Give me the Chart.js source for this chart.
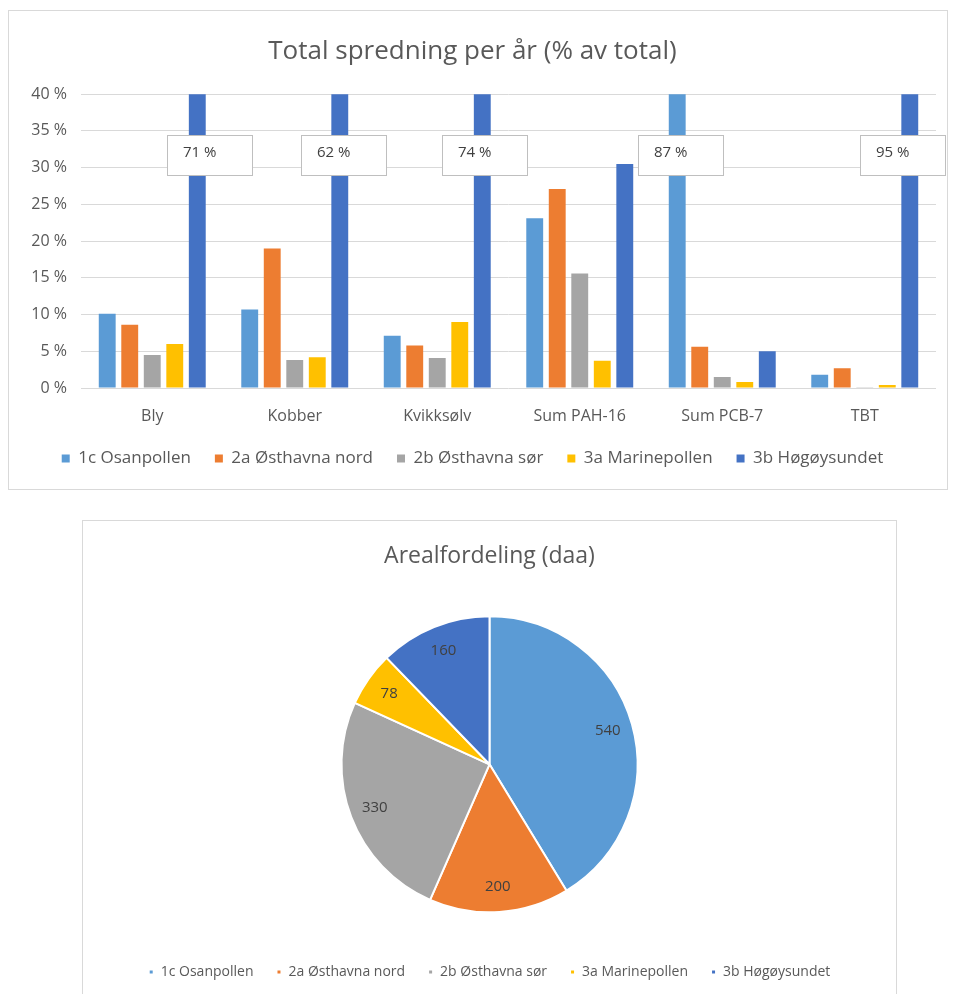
<!DOCTYPE html>
<html>
<head>
<meta charset="utf-8">
<script src="https://cdn.jsdelivr.net/npm/chart.js@4"></script>
<style>
  body { margin: 0; background: #fff; }
  .box { position: absolute; border: 1px solid #d9d9d9; background: #fff; }
  #boxA { left: 8px; top: 10px; width: 938px; height: 478px; }
  #boxB { left: 82px; top: 520px; width: 813px; height: 480px; }
  canvas { display: block; }
</style>
</head>
<body>
<div class="box" id="boxA"><canvas id="spredning" width="938" height="478"></canvas></div>
<div class="box" id="boxB"><canvas id="areal" width="813" height="473"></canvas></div>
<script>
// categories and series
const parameters = ['Bly', 'Kobber', 'Kvikksølv', 'Sum PAH-16', 'Sum PCB-7', 'TBT'];
const areas = ['1c Osanpollen', '2a Østhavna nord', '2b Østhavna sør', '3a Marinepollen', '3b Høgøysundet'];
const colors = ['#5B9BD5', '#ED7D31', '#A5A5A5', '#FFC000', '#4472C4'];

// % of total per parameter, one array per area
const osanpollen   = [10.1, 10.7, 7.1, 23.1, 87, 1.8];
const osthavnaNord = [8.6, 19.0, 5.8, 27.1, 5.6, 2.7];
const osthavnaSor  = [4.5, 3.8, 4.1, 15.6, 1.5, 0.1];
const marinepollen = [6.0, 4.2, 9.0, 3.7, 0.8, 0.4];
const hogoysundet  = [71, 62, 74, 30.5, 5.0, 95];

const yTicks = [0, 5, 10, 15, 20, 25, 30, 35, 40];

// area in daa
const arealValues = [540, 200, 330, 78, 160];

Chart.defaults.font.family = '"Open Sans"';
Chart.defaults.color = '#595959';

// labels for the bars that run past the top of the axis
const boxShift = [12, 4, 2, 0, 3, -7];
const overflowLabels = {
  id: 'overflowLabels',
  afterDatasetsDraw(chart) {
    const { ctx, scales: { y } } = chart;
    chart.data.datasets.forEach((ds, di) => {
      const meta = chart.getDatasetMeta(di);
      ds.data.forEach((v, i) => {
        if (v <= y.max) return;
        const bar = meta.data[i];
        const w = 85, h = 40;
        const left = Math.round(bar.x + boxShift[i] - w / 2);
        const top = Math.round(y.getPixelForValue(34.5));
        ctx.save();
        ctx.fillStyle = '#fff';
        ctx.fillRect(left, top, w, h);
        ctx.strokeStyle = '#bfbfbf';
        ctx.lineWidth = 1;
        ctx.strokeRect(left + 0.5, top + 0.5, w, h);
        ctx.fillStyle = '#404040';
        ctx.font = '15px "Open Sans"';
        ctx.textBaseline = 'middle';
        ctx.fillText(Math.round(v) + ' %', left + 16, top + h / 2 - 2);
        ctx.restore();
      });
    });
  }
};

const series = [osanpollen, osthavnaNord, osthavnaSor, marinepollen, hogoysundet];

new Chart(document.getElementById('spredning'), {
  type: 'bar',
  data: {
    labels: parameters,
    datasets: series.map((s, k) => ({
      label: areas[k],
      data: s,
      backgroundColor: colors[k],
      barPercentage: 0.75,
      categoryPercentage: 0.79
    }))
  },
  options: {
    responsive: false,
    animation: false,
    layout: { padding: { left: 0, right: 11, top: 25, bottom: 12 } },
    plugins: {
      title: {
        display: true,
        text: 'Total spredning per år (% av total)',
        font: { size: 26, weight: 'normal' },
        color: '#595959',
        padding: { top: 0, bottom: 27 }
      },
      legend: {
        position: 'bottom',
        labels: { boxWidth: 8, boxHeight: 8, font: { size: 17 }, color: '#595959', padding: 24 }
      },
      tooltip: { enabled: false }
    },
    scales: {
      x: {
        grid: { display: false },
        border: { display: false },
        ticks: { font: { size: 16 }, color: '#595959', padding: 11 },
        afterFit: s => { s.height = 38; }
      },
      y: {
        min: 0,
        max: 40,
        afterBuildTicks: s => { s.ticks = yTicks.map(v => ({ value: v })); },
        ticks: { callback: v => v + ' %', font: { size: 16 }, color: '#595959', padding: 14 },
        grid: { color: '#d9d9d9', drawTicks: false },
        border: { display: false },
        afterFit: s => { s.width = 72; }
      }
    }
  },
  plugins: [overflowLabels]
});

// value labels inside the pie slices
const sliceLabels = {
  id: 'sliceLabels',
  afterDatasetsDraw(chart) {
    const { ctx } = chart;
    const meta = chart.getDatasetMeta(0);
    meta.data.forEach((arc, i) => {
      const p = arc.getProps(['x', 'y', 'startAngle', 'endAngle', 'outerRadius']);
      const mid = (p.startAngle + p.endAngle) / 2;
      const r = p.outerRadius * 0.83;
      ctx.save();
      ctx.fillStyle = '#404040';
      ctx.font = '15px "Open Sans"';
      ctx.textAlign = 'center';
      ctx.textBaseline = 'middle';
      ctx.fillText(chart.data.datasets[0].data[i], p.x + Math.cos(mid) * r, p.y + Math.sin(mid) * r);
      ctx.restore();
    });
  }
};

new Chart(document.getElementById('areal'), {
  type: 'pie',
  data: {
    labels: areas,
    datasets: [{
      data: arealValues,
      backgroundColor: colors,
      borderColor: '#fff',
      borderWidth: 2,
      radius: 148
    }]
  },
  options: {
    responsive: false,
    animation: false,
    layout: { padding: { top: 22, bottom: 5 } },
    plugins: {
      title: {
        display: true,
        text: 'Arealfordeling (daa)',
        font: { size: 23, weight: 'normal' },
        color: '#595959',
        padding: { top: 0, bottom: 16 }
      },
      legend: {
        position: 'bottom',
        labels: { boxWidth: 5, boxHeight: 5, font: { size: 14 }, color: '#595959', padding: 23 }
      },
      tooltip: { enabled: false }
    }
  },
  plugins: [sliceLabels]
});
</script>
</body>
</html>
